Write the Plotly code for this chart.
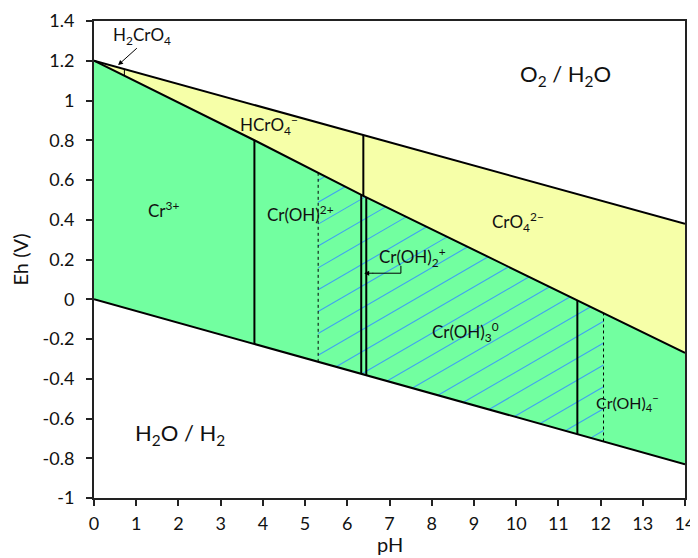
import numpy as np
import plotly.graph_objects as go

# ---- data ----
ph_water = [0, 14]
eh_o2_line = [1.2, 0.38]          # O2/H2O boundary
eh_h2_line = [0.0, -0.83]         # H2O/H2 boundary

ph_cr = [0, 3.8, 6.38, 11.45, 14]           # Cr(III)/Cr(VI) boundary
eh_cr = [1.2, 0.8, 0.52, -0.005, -0.27]

solid_vert_ph = [3.8, 6.33, 6.45, 11.45]     # from lower water line to Cr boundary
hcro4_cro4_ph = 6.38                         # HCrO4-/CrO4 2- (Cr(VI) field)
h2cro4_ph = 0.72                             # H2CrO4/HCrO4-
dotted_ph = [5.31, 12.07]                    # hatched (solid Cr(OH)3) limits

hatch_slope = 0.123
hatch_step = 0.11

x_ticks = list(range(0, 15))
y_ticks = [-1, -0.8, -0.6, -0.4, -0.2, 0, 0.2, 0.4, 0.6, 0.8, 1, 1.2, 1.4]
y_ticktext = ["-1", "-0.8", "-0.6", "-0.4", "-0.2", "0", "0.2", "0.4", "0.6", "0.8", "1", "1.2", "1.4"]

labels = [
    ("H<sub>2</sub>CrO<sub>4</sub>", 1.13, 1.325, 17),
    ("HCrO<sub>4</sub><sup>−</sup>", 4.15, 0.875, 17),
    ("Cr<sup>3+</sup>", 1.64, 0.45, 17),
    ("Cr(OH)<sup>2+</sup>", 4.9, 0.43, 17),
    ("CrO<sub>4</sub><sup>2−</sup>", 10.05, 0.39, 17),
    ("Cr(OH)<sub>2</sub><sup>+</sup>", 7.55, 0.215, 17),
    ("Cr(OH)<sub>3</sub><sup>0</sup>", 8.8, -0.165, 17),
    ("Cr(OH)<sub>4</sub><sup>−</sup>", 12.64, -0.52, 16),
    ("O<sub>2</sub> / H<sub>2</sub>O", 11.18, 1.13, 22),
    ("H<sub>2</sub>O / H<sub>2</sub>", 2.03, -0.68, 22),
]

GREEN = "rgb(114,255,160)"
YELLOW = "rgb(246,255,168)"
HATCH = "rgb(64,164,240)"
FONT = "Lato"
TXT = "#111"


def h2(ph):
    return np.interp(ph, ph_water, eh_h2_line)


def o2(ph):
    return np.interp(ph, ph_water, eh_o2_line)


def cr(ph):
    return np.interp(ph, ph_cr, eh_cr)


fig = go.Figure()

# yellow Cr(VI) field
yx = list(ph_water) + ph_cr[::-1]
yy = list(eh_o2_line) + eh_cr[::-1]
fig.add_trace(go.Scatter(x=yx, y=yy, fill="toself", fillcolor=YELLOW,
                         mode="none", hoverinfo="skip"))
# green Cr(III) field
gx = ph_cr + ph_water[::-1]
gy = eh_cr + eh_h2_line[::-1]
fig.add_trace(go.Scatter(x=gx, y=gy, fill="toself", fillcolor=GREEN,
                         mode="none", hoverinfo="skip"))

# hatching between the dotted limits
hx, hy = [], []
grid = np.linspace(dotted_ph[0], dotted_ph[1], 3000)
lo, hi = h2(grid), cr(grid)
c_min = (lo - hatch_slope * grid).min()
c_max = (hi - hatch_slope * grid).max()
for c in np.arange(c_min + hatch_step / 2, c_max, hatch_step):
    e = hatch_slope * grid + c
    inside = (e >= lo) & (e <= hi)
    if inside.any():
        xs = grid[inside]
        hx += [xs[0], xs[-1], None]
        hy += [hatch_slope * xs[0] + c, hatch_slope * xs[-1] + c, None]
fig.add_trace(go.Scatter(x=hx, y=hy, mode="lines",
                         line=dict(color=HATCH, width=1.1), hoverinfo="skip"))

# dotted verticals
for p in dotted_ph:
    fig.add_trace(go.Scatter(x=[p, p], y=[float(h2(p)), float(cr(p))], mode="lines",
                             line=dict(color="black", width=1, dash="dot"), hoverinfo="skip"))

# solid verticals
for p in solid_vert_ph:
    fig.add_trace(go.Scatter(x=[p, p], y=[float(h2(p)), float(cr(p))], mode="lines",
                             line=dict(color="black", width=2), hoverinfo="skip"))
fig.add_trace(go.Scatter(x=[hcro4_cro4_ph] * 2,
                         y=[float(cr(hcro4_cro4_ph)), float(o2(hcro4_cro4_ph))], mode="lines",
                         line=dict(color="black", width=2), hoverinfo="skip"))
fig.add_trace(go.Scatter(x=[h2cro4_ph] * 2,
                         y=[float(cr(h2cro4_ph)), float(o2(h2cro4_ph))], mode="lines",
                         line=dict(color="black", width=1), hoverinfo="skip"))

# boundary lines
fig.add_trace(go.Scatter(x=ph_water, y=eh_o2_line, mode="lines",
                         line=dict(color="black", width=2), hoverinfo="skip"))
fig.add_trace(go.Scatter(x=ph_water, y=eh_h2_line, mode="lines",
                         line=dict(color="black", width=2), hoverinfo="skip"))
fig.add_trace(go.Scatter(x=ph_cr, y=eh_cr, mode="lines",
                         line=dict(color="black", width=2), hoverinfo="skip"))

# elbow connector for Cr(OH)2+
fig.add_trace(go.Scatter(x=[7.27, 7.27, 6.6], y=[0.168, 0.131, 0.131], mode="lines",
                         line=dict(color="black", width=1), hoverinfo="skip"))
fig.add_annotation(x=6.4, y=0.131, ax=6.65, ay=0.131, xref="x", yref="y",
                   axref="x", ayref="y", text="", showarrow=True,
                   arrowhead=2, arrowsize=1, arrowwidth=1, arrowcolor="black")
# arrow for H2CrO4
fig.add_annotation(x=0.57, y=1.178, ax=1.05, ay=1.27, xref="x", yref="y",
                   axref="x", ayref="y", text="", showarrow=True,
                   arrowhead=2, arrowsize=1, arrowwidth=1, arrowcolor="black")

for txt, x, y, size in labels:
    fig.add_annotation(x=x, y=y, text=txt, showarrow=False,
                       font=dict(family=FONT, size=size, color=TXT))

# x-axis title placed as paper annotation so it sits near the bottom edge
fig.add_annotation(x=0.5, y=-0.096, xref="paper", yref="paper", text="pH",
                   showarrow=False, yanchor="middle",
                   font=dict(family=FONT, size=20, color=TXT))

# the page body adds an 8 px margin, so the figure is 8 px smaller each way
fig.update_layout(
    width=690, height=550,
    margin=dict(l=86, r=13, t=13, b=60),
    paper_bgcolor="white", plot_bgcolor="white",
    showlegend=False,
    font=dict(family=FONT, color=TXT),
)
fig.update_xaxes(range=[0, 14], tickvals=x_ticks, ticks="outside", ticklen=6,
                 tickwidth=2, tickcolor="#222", ticklabelstandoff=2,
                 automargin=False,
                 showline=True, linecolor="#222", linewidth=2, mirror=True,
                 showgrid=False, zeroline=False,
                 tickfont=dict(size=18, family=FONT, color=TXT))
fig.update_yaxes(range=[-1, 1.4], tickvals=y_ticks, ticktext=y_ticktext,
                 ticks="outside", ticklen=6, tickwidth=2, tickcolor="#222",
                 ticklabelstandoff=8, automargin=False,
                 showline=True, linecolor="#222", linewidth=2, mirror=True,
                 showgrid=False, zeroline=False,
                 tickfont=dict(size=18, family=FONT, color=TXT),
                 title=dict(text="Eh (V)", font=dict(size=20, family=FONT, color=TXT), standoff=14))

fig.write_html("out.html")
